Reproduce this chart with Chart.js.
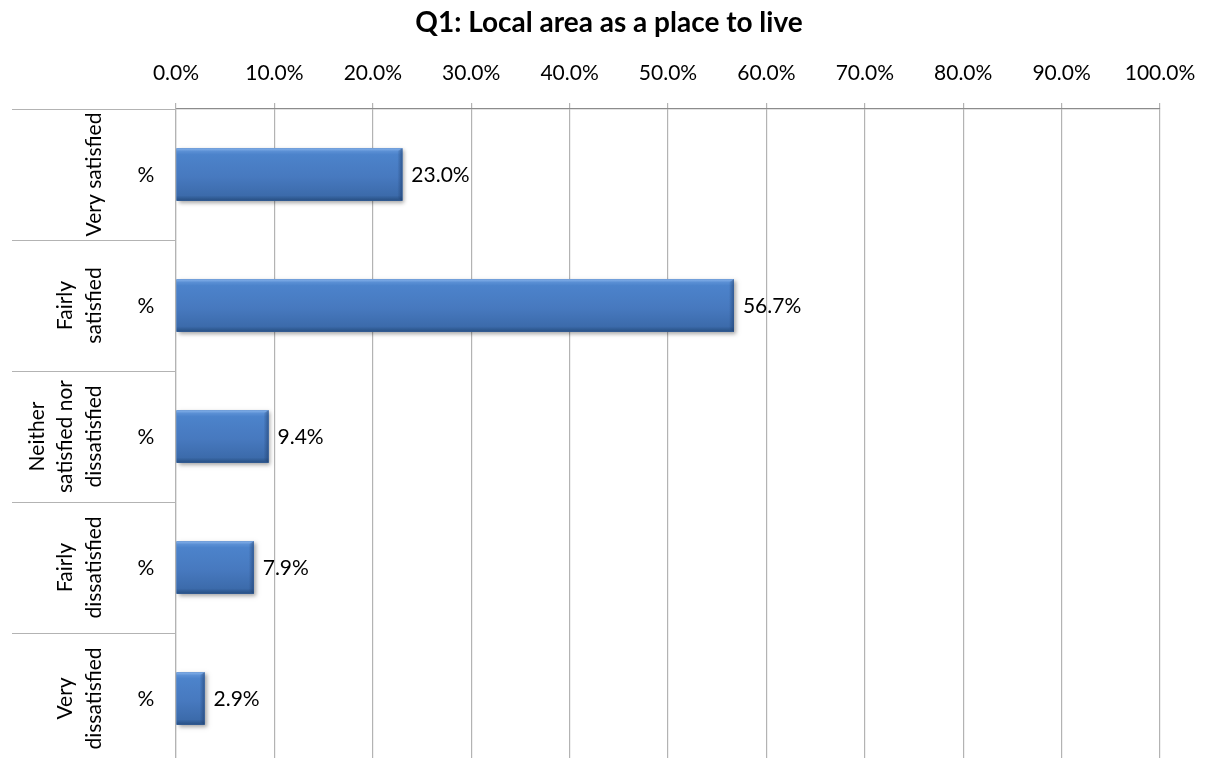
<!DOCTYPE html>
<html>
<head>
<meta charset="utf-8">
<title>Q1: Local area as a place to live</title>
<script src="https://cdn.jsdelivr.net/npm/chart.js@4.4.1/dist/chart.umd.min.js"></script>
<style>
  html, body { margin: 0; padding: 0; background: #ffffff; overflow: hidden; }
  #wrap { position: relative; width: 1208px; height: 766px; }
</style>
</head>
<body>
<div id="wrap"><canvas id="chart"></canvas></div>
<script>
// Survey answers, one bar per answer
const categories = [
  ['Very satisfied'],
  ['Fairly', 'satisfied'],
  ['Neither', 'satisfied nor', 'dissatisfied'],
  ['Fairly', 'dissatisfied'],
  ['Very', 'dissatisfied']
];
const rowUnits = ['%', '%', '%', '%', '%'];
const percentages = [23.0, 56.7, 9.4, 7.9, 2.9];
const axisMin = 0;
const axisMax = 100;
const axisStep = 10;

const FONT = 'Lato, "Open Sans", sans-serif';
const TEXT_SIZE = 21;
const GRID = '#b3b3b3';
const PLOT_LEFT = 176;
const PAD_LEFT = 58;
const PAD_RIGHT = 48;

const fmt = v => Number(v).toFixed(1) + '%';

// Left-hand label panel: group labels (rotated), unit column, separators
const labelPanel = {
  id: 'labelPanel',
  afterDraw(chart) {
    const { ctx, chartArea } = chart;
    const ys = chart.scales.y;
    const n = categories.length;
    const band = n > 1 ? ys.getPixelForValue(1) - ys.getPixelForValue(0) : chartArea.bottom - chartArea.top;
    const panelLeft = 12;
    ctx.save();
    ctx.strokeStyle = GRID;
    ctx.lineWidth = 1.2;
    // top rule continues left across the label panel
    ctx.beginPath();
    ctx.moveTo(panelLeft, Math.round(chartArea.top) + 0.5);
    ctx.lineTo(chartArea.left, Math.round(chartArea.top) + 0.5);
    ctx.stroke();
    for (let i = 0; i < n; i++) {
      const c = ys.getPixelForValue(i);
      const yb = Math.round(c + band / 2) + 0.5;
      ctx.beginPath();
      ctx.moveTo(panelLeft, yb);
      ctx.lineTo(chartArea.left, yb);
      ctx.stroke();

      // unit column
      ctx.fillStyle = '#000';
      ctx.font = TEXT_SIZE + 'px ' + FONT;
      ctx.textAlign = 'center';
      ctx.textBaseline = 'middle';
      ctx.fillText(rowUnits[i], chartArea.left - 30, c + 1);

      // rotated group label, last line anchored nearest the unit column
      const lines = categories[i];
      ctx.save();
      ctx.translate(chartArea.left - 82, c);
      ctx.rotate(-Math.PI / 2);
      ctx.textAlign = 'center';
      ctx.textBaseline = 'middle';
      for (let j = 0; j < lines.length; j++) {
        ctx.fillText(lines[j], 0, -(lines.length - 1 - j) * 28.5);
      }
      ctx.restore();
    }
    ctx.restore();
  }
};

// Bevelled fill and value labels on each bar
const barFinish = {
  id: 'barFinish',
  afterDatasetsDraw(chart) {
    const { ctx } = chart;
    const meta = chart.getDatasetMeta(0);
    ctx.save();
    meta.data.forEach((el, i) => {
      const p = el.getProps(['x', 'y', 'base', 'height'], true);
      const left = Math.min(p.base, p.x);
      const right = Math.max(p.base, p.x);
      const top = p.y - p.height / 2;
      const h = p.height;
      const w = right - left;

      // soft drop shadow
      ctx.save();
      ctx.shadowColor = 'rgba(0,0,0,0.35)';
      ctx.shadowBlur = 4;
      ctx.shadowOffsetX = 2;
      ctx.shadowOffsetY = 2;
      ctx.fillStyle = '#3f73b7';
      ctx.fillRect(left, top, w, h);
      ctx.restore();

      // body
      const g = ctx.createLinearGradient(0, top, 0, top + h);
      g.addColorStop(0, '#86b2ea');
      g.addColorStop(0.06, '#5a8fd4');
      g.addColorStop(0.12, '#4c83cb');
      g.addColorStop(0.55, '#4779bf');
      g.addColorStop(0.9, '#3c6bab');
      g.addColorStop(0.96, '#2f5a92');
      g.addColorStop(1, '#284f83');
      ctx.fillStyle = g;
      ctx.fillRect(left, top, w, h);

      // darker right bevel
      const bev = Math.min(5, w / 3);
      const gr = ctx.createLinearGradient(right - bev, 0, right, 0);
      gr.addColorStop(0, 'rgba(30,60,105,0)');
      gr.addColorStop(1, 'rgba(30,60,105,0.55)');
      ctx.fillStyle = gr;
      ctx.beginPath();
      ctx.moveTo(right - bev, top + 3);
      ctx.lineTo(right, top);
      ctx.lineTo(right, top + h);
      ctx.lineTo(right - bev, top + h - 3);
      ctx.closePath();
      ctx.fill();

      // value label
      ctx.fillStyle = '#000';
      ctx.font = TEXT_SIZE + 'px ' + FONT;
      ctx.textAlign = 'left';
      ctx.textBaseline = 'middle';
      ctx.fillText(fmt(percentages[i]), right + 9, p.y + 1);
    });
    ctx.restore();
  }
};

new Chart(document.getElementById('chart'), {
  type: 'bar',
  data: {
    labels: categories,
    datasets: [{
      data: percentages,
      backgroundColor: '#4779bf',
      borderWidth: 0,
      categoryPercentage: 1,
      barPercentage: 0.4
    }]
  },
  options: {
    indexAxis: 'y',
    responsive: true,
    maintainAspectRatio: false,
    animation: false,
    layout: { padding: { left: PAD_LEFT, right: PAD_RIGHT, top: 0, bottom: 2 } },
    plugins: {
      legend: { display: false },
      tooltip: { enabled: false },
      title: {
        display: true,
        text: 'Q1: Local area as a place to live',
        color: '#000',
        font: { family: FONT, size: 28, weight: 'bold' },
        padding: { top: 5.7, bottom: 0 }
      }
    },
    scales: {
      x: {
        position: 'top',
        min: axisMin,
        max: axisMax,
        ticks: {
          stepSize: axisStep,
          color: '#000',
          font: { family: FONT, size: TEXT_SIZE },
          padding: 17.4,
          maxRotation: 0,
          callback: v => fmt(v)
        },
        grid: { color: GRID, lineWidth: 1.2, tickLength: 6, drawTicks: true, tickColor: GRID },
        border: { display: true, color: '#8c8c8c', width: 1.2 },
        afterFit: s => {
          s.height = 109 - (5.7 + 28 * 1.2);
          // end labels may overhang into the layout padding
          s.paddingLeft = 0;
          s.paddingRight = 0;
        }
      },
      y: {
        type: 'category',
        ticks: { display: false },
        grid: { display: false },
        border: { display: true, color: GRID, width: 1.2 },
        afterFit: s => { s.width = PLOT_LEFT - PAD_LEFT; }
      }
    }
  },
  plugins: [labelPanel, barFinish]
});
</script>
</body>
</html>
